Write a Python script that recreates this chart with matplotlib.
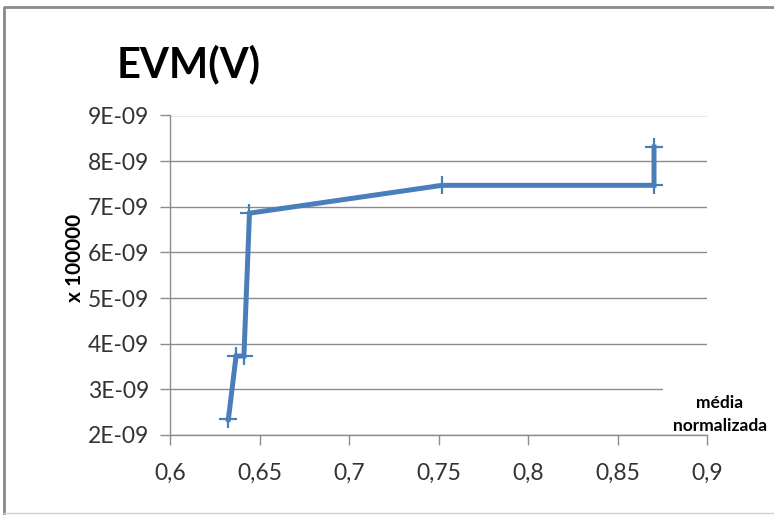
import matplotlib
matplotlib.use("Agg")
import matplotlib.pyplot as plt
from matplotlib.ticker import FuncFormatter
from matplotlib.patches import Rectangle
from matplotlib.lines import Line2D

# values
media_norm = [0.6326, 0.6369, 0.6413, 0.6444, 0.7520, 0.8704, 0.8704]
evm_v = [2.34e-9, 3.73e-9, 3.73e-9, 6.86e-9, 7.47e-9, 7.47e-9, 8.31e-9]

x_ticks = [0.6, 0.65, 0.7, 0.75, 0.8, 0.85, 0.9]
y_ticks = [2e-9, 3e-9, 4e-9, 5e-9, 6e-9, 7e-9, 8e-9, 9e-9]

blue = '#4a7ebb'
grid_c = '#8c8c8c'
txt_c = '#333333'

plt.rcParams['font.family'] = ['Lato', 'DejaVu Sans']

W, H = 774, 515
fig = plt.figure(figsize=(W/100, H/100), dpi=100)
fig.patch.set_facecolor('white')

ax = fig.add_axes([170/W, 1-435/H, (707-170)/W, (435-115.5)/H])
ax.plot(media_norm, evm_v, color=blue, lw=3.6, marker='+', ms=13, mew=1.6,
        solid_joinstyle='miter', zorder=3)

ax.set_xlim(0.6, 0.9)
ax.set_ylim(2e-9, 9e-9)
ax.set_xticks(x_ticks)
ax.set_yticks(y_ticks)
ax.xaxis.set_major_formatter(FuncFormatter(lambda v, p: f"{v:g}".replace('.', ',')))
ax.yaxis.set_major_formatter(FuncFormatter(lambda v, p: f"{round(v*1e9):d}E-09"))
ax.tick_params(axis='both', labelsize=16.5, labelcolor=txt_c, color=grid_c,
               length=7, width=1)
ax.tick_params(axis='x', pad=13)
ax.tick_params(axis='y', pad=8)
ax.grid(axis='y', color=grid_c, lw=1)
ax.set_axisbelow(True)
for s in ['top', 'right']:
    ax.spines[s].set_visible(False)
for s in ['left', 'bottom']:
    ax.spines[s].set_color(grid_c)
    ax.spines[s].set_linewidth(1)

ax.set_ylabel('x 100000', fontsize=15, fontweight='bold', color='black')
ax.yaxis.set_label_coords(-0.158, 0.555)

fig.text(117/W, 1-64/H, 'EVM(V)', fontsize=30, fontweight='bold',
         ha='left', va='center', color='black')

# white box behind the x label, as in the original
fig.patches.append(Rectangle((663/W, 1-433/H), (W-663)/W, 45/H,
                             transform=fig.transFigure, facecolor='white',
                             edgecolor='none', zorder=5))
fig.text(720/W, 1-403/H, 'média', fontsize=12.5, fontweight='bold',
         ha='center', va='center', zorder=6)
fig.text(720/W, 1-426/H, 'normalizada', fontsize=12.5, fontweight='bold',
         ha='center', va='center', zorder=6)

# chart area border
fig.lines.append(Line2D([4/W, 4/W, 1.0], [1-513/H, 1-7/H, 1-7/H],
                        transform=fig.transFigure, color='#8a8a8a', lw=2))
fig.lines.append(Line2D([4/W, 1.0], [1-513/H, 1-513/H],
                        transform=fig.transFigure, color='#d0d0d0', lw=1))

fig.savefig('out.png', dpi=100)
